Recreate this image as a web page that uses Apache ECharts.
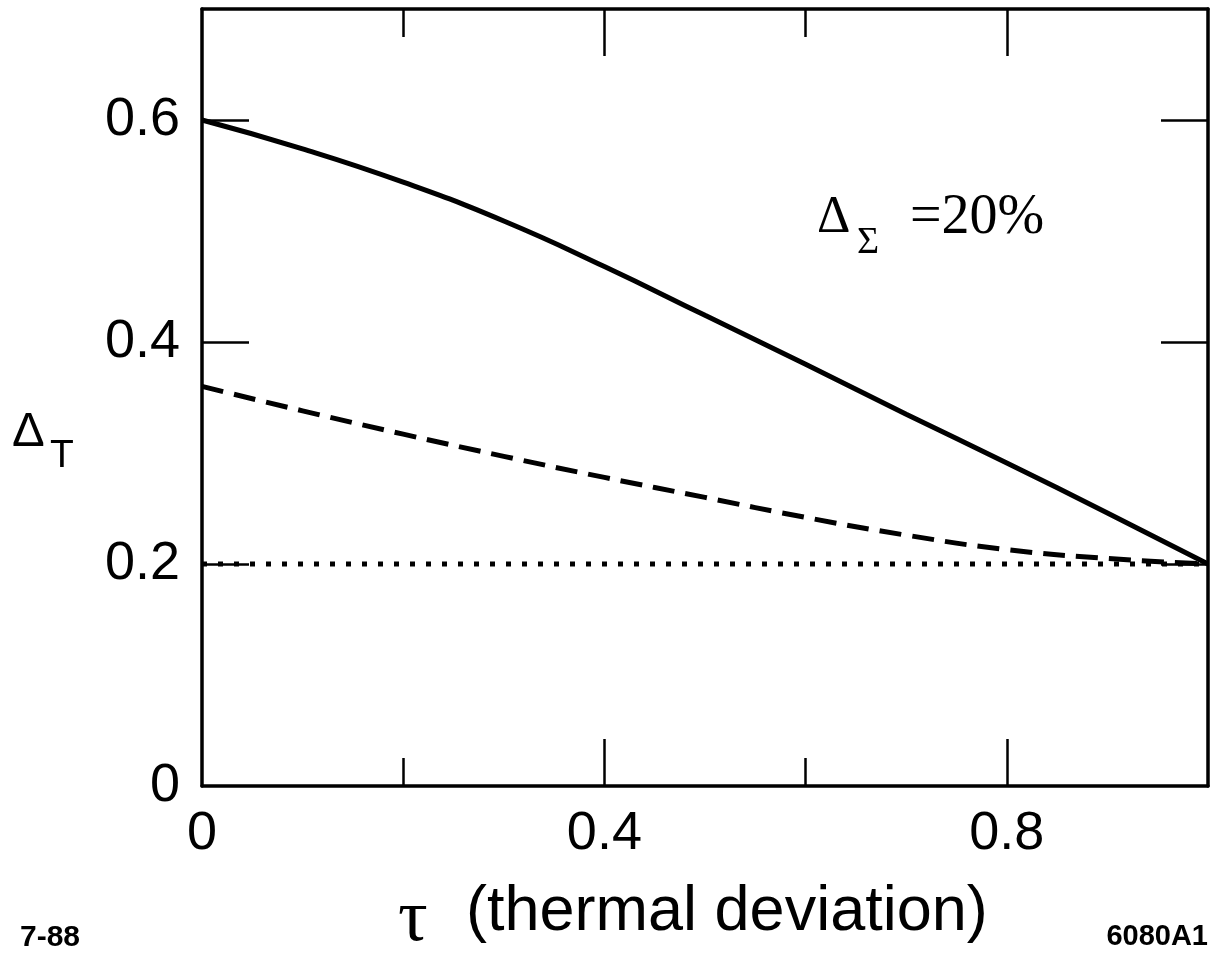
<!DOCTYPE html>
<html><head><meta charset="utf-8">
<script src="https://cdn.jsdelivr.net/npm/echarts@6/dist/echarts.min.js"></script>
<style>html,body{margin:0;padding:0;background:#fff}#c{width:1212px;height:962px}</style>
</head><body><div id="c"></div>
<script>
// thermal deviation tau
const tau      = [0, 0.1, 0.2, 0.3, 0.4, 0.5, 0.6, 0.7, 0.8, 0.9, 1.0];
const solidDT  = [0.600, 0.574, 0.544, 0.509, 0.468, 0.424, 0.380, 0.335, 0.291, 0.246, 0.200];
const dashedDT = [0.360, 0.338, 0.317, 0.297, 0.278, 0.260, 0.242, 0.226, 0.213, 0.205, 0.200];
const dottedTau = [0, 1.0];
const dottedDT  = [0.2, 0.2];
const xLabelValues = [0, 0.4, 0.8];
const xMajorTicks  = [0.4, 0.8];
const xMinorTicks  = [0.2, 0.6];
const yLabelValues = [0, 0.2, 0.4, 0.6];
const yTicks       = [0.2, 0.4, 0.6];

const pairs = (xs, ys) => xs.map((x, i) => [x, ys[i]]);
const sans = "'Liberation Sans', Arial, Helvetica, sans-serif";
const serif = "'Liberation Serif', 'Times New Roman', serif";
const BLACK = '#000';

function xAx(pos, ticks, len, showLine, showLabel) {
  return {
    type: 'value', min: 0, max: 1.0, position: pos,
    axisLine: { show: showLine, onZero: false, lineStyle: { color: BLACK, width: 3.5 } },
    axisTick: { show: true, inside: true, length: len, customValues: ticks, lineStyle: { color: BLACK, width: 2.5 } },
    axisLabel: showLabel ? { show: true, customValues: xLabelValues, margin: 21, color: BLACK, fontSize: 54, fontFamily: sans } : { show: false },
    splitLine: { show: false }
  };
}
function yAx(pos, showLabel) {
  return {
    type: 'value', min: 0, max: 0.7, position: pos,
    axisLine: { show: true, onZero: false, lineStyle: { color: BLACK, width: 3.5 } },
    axisTick: { show: true, inside: true, length: 47, customValues: yTicks, lineStyle: { color: BLACK, width: 2.5 } },
    axisLabel: showLabel ? { show: true, customValues: yLabelValues, margin: 22, color: BLACK, fontSize: 54, fontFamily: sans } : { show: false },
    splitLine: { show: false }
  };
}

const chart = echarts.init(document.getElementById('c'), null, { renderer: 'canvas' });
chart.setOption({
  animation: false,
  backgroundColor: '#fff',
  grid: { left: 202, right: 4, top: 9, bottom: 176, outerBoundsMode: 'none' },
  xAxis: [
    xAx('bottom', xMinorTicks, 28, true, true),
    xAx('bottom', xMajorTicks, 47, false, false),
    xAx('top', xMinorTicks, 28, true, false),
    xAx('top', xMajorTicks, 47, false, false)
  ],
  yAxis: [ yAx('left', true), yAx('right', false) ],
  series: [
    { type: 'line', data: pairs(tau, solidDT), smooth: true, symbol: 'none', xAxisIndex: 0, yAxisIndex: 0,
      lineStyle: { color: BLACK, width: 5 } },
    { type: 'line', data: pairs(tau, dashedDT), smooth: true, symbol: 'none', xAxisIndex: 0, yAxisIndex: 0,
      lineStyle: { color: BLACK, width: 5, type: [22, 11], cap: 'butt' } },
    { type: 'line', data: pairs(dottedTau, dottedDT), symbol: 'none', xAxisIndex: 0, yAxisIndex: 0,
      lineStyle: { color: BLACK, width: 5, type: [5, 11], cap: 'butt' } }
  ],
  graphic: [
    // y-axis title Δ_T
    { type: 'text', left: 12, top: 408, style: { text: 'Δ', font: `49px ${sans}`, fill: BLACK } },
    { type: 'text', left: 50, top: 437, style: { text: 'T', font: `39px ${sans}`, fill: BLACK } },
    // annotation Δ_Σ =20%
    { type: 'text', left: 817, top: 192, style: { text: 'Δ', font: `52px ${serif}`, fill: BLACK } },
    { type: 'text', left: 857, top: 224, style: { text: 'Σ', font: `38px ${serif}`, fill: BLACK } },
    { type: 'text', left: 910, top: 190, style: { text: '=20%', font: `56px ${serif}`, fill: BLACK } },
    // x-axis title
    { type: 'text', left: 398, top: 884, style: { text: 'τ', font: `74px ${serif}`, fill: BLACK } },
    { type: 'text', left: 466, top: 881, style: { text: '(thermal deviation)', font: `63px ${sans}`, fill: BLACK } },
    // corner notes
    { type: 'text', left: 20, top: 923, style: { text: '7-88', font: `bold 30px ${sans}`, fill: BLACK } },
    { type: 'text', right: 4, top: 922, style: { text: '6080A1', font: `bold 29px ${sans}`, fill: BLACK } }
  ]
});
</script></body></html>
